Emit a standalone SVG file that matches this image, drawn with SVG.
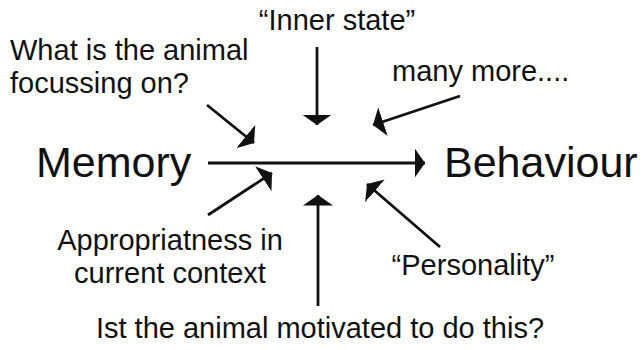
<svg xmlns="http://www.w3.org/2000/svg" width="644" height="350" viewBox="0 0 644 350">
<style>
.t{font-family:"Liberation Sans",Arial,sans-serif;font-size:29px;fill:#111}
.big{font-family:"Liberation Sans",Arial,sans-serif;font-size:43px;fill:#111}
.c{stroke:#111;stroke-width:2.8;fill:none;marker-end:url(#ah)}
</style>
<defs>
<marker id="ah" markerUnits="userSpaceOnUse" markerWidth="11" markerHeight="30" refX="10.5" refY="15" orient="auto" viewBox="0 0 11 30">
<path d="M0,0 L10.5,15 L0,30 Z" fill="#111"/>
</marker>
</defs>
<rect width="644" height="350" fill="#fff"/>
<g id="connectors">
<line class="c" x1="208" y1="163" x2="425" y2="163"/>
<line class="c" x1="317" y1="47" x2="317" y2="125"/>
<line class="c" x1="318" y1="306" x2="318" y2="195"/>
<line class="c" x1="207" y1="105" x2="254" y2="143"/>
<line class="c" x1="208" y1="215" x2="272" y2="173"/>
<line class="c" x1="460" y1="96" x2="373" y2="125"/>
<line class="c" x1="440" y1="247" x2="367" y2="184"/>
</g>
<g id="memory"><text class="big" x="36" y="177">Memory</text></g>
<g id="behaviour"><text class="big" x="444" y="177">Behaviour</text></g>
<g id="focus"><text class="t" x="10" y="60">What is the animal</text><text class="t" x="10" y="93">focussing on?</text></g>
<g id="inner"><text class="t" x="337" y="30" text-anchor="middle">“Inner state”</text></g>
<g id="more"><text class="t" x="392" y="81">many more....</text></g>
<g id="context"><text class="t" x="170" y="250" text-anchor="middle">Appropriatness in</text><text class="t" x="170" y="283" text-anchor="middle">current context</text></g>
<g id="personality"><text class="t" x="473" y="275" text-anchor="middle">“Personality”</text></g>
<g id="motivated"><text class="t" x="320" y="338" text-anchor="middle">Ist the animal motivated to do this?</text></g>
</svg>
